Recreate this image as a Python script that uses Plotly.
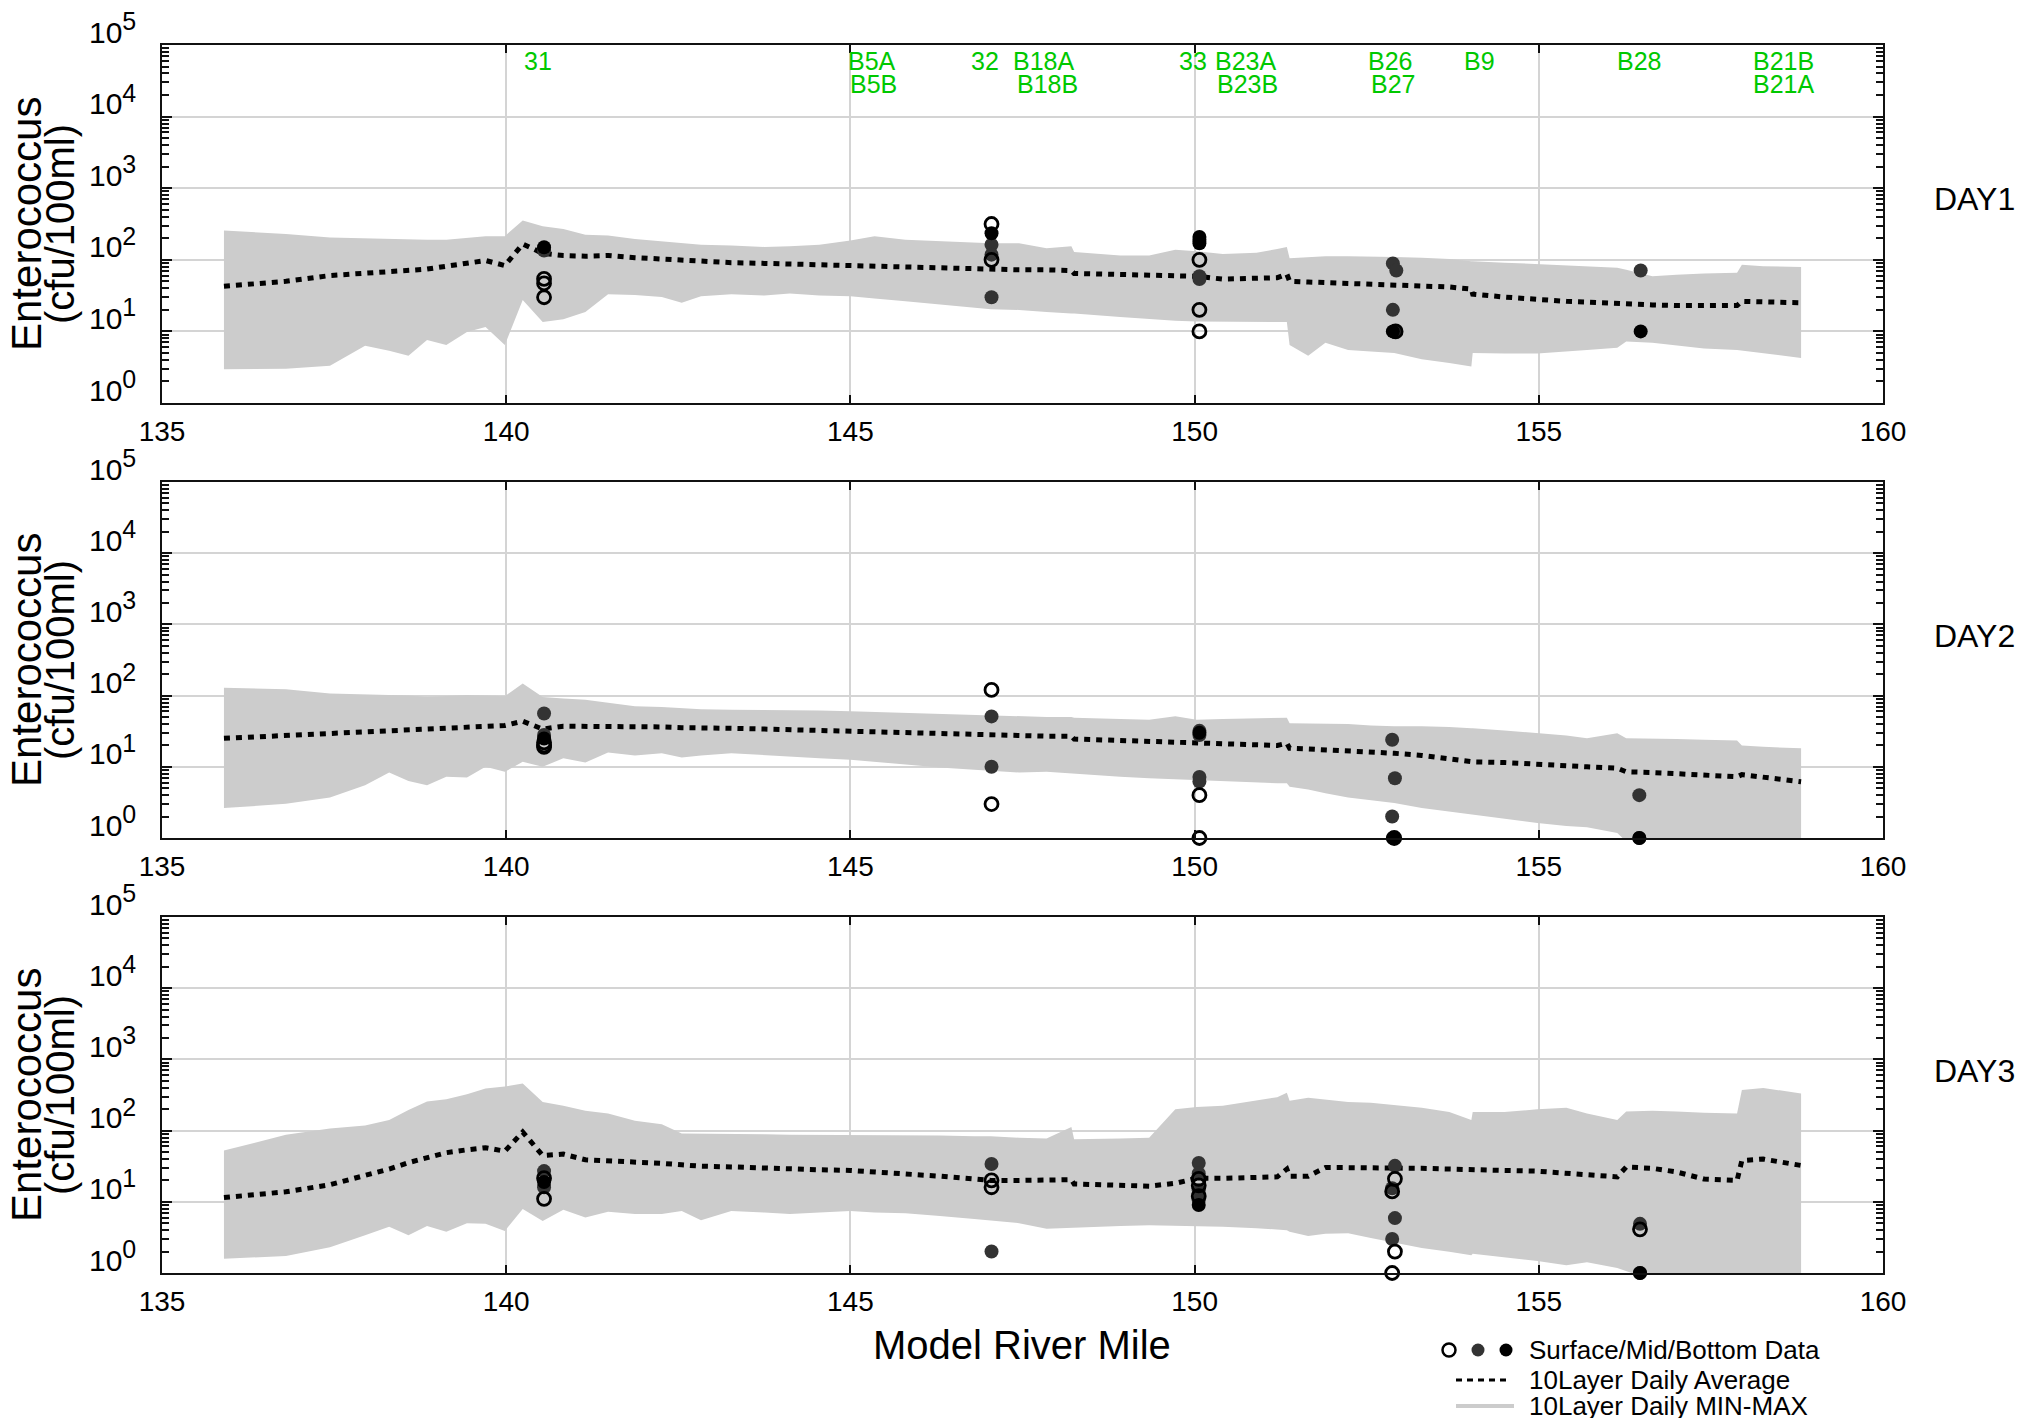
import plotly.graph_objects as go

# ---------------- data ----------------
river_mile = [135.90, 136.80, 137.44, 137.95, 138.30, 138.58, 138.85, 139.13, 139.43, 139.70,
              139.98, 140.24, 140.53, 140.83, 141.15, 141.48, 141.87, 142.26, 142.55, 142.83,
              143.27, 143.75, 144.12, 144.55, 145.00, 145.35, 145.80, 146.30, 146.80, 147.04,
              147.45, 147.85, 148.21, 148.25, 148.92, 149.34, 149.72, 150.03, 150.41, 150.90,
              151.20, 151.34, 151.38, 151.65, 151.90, 152.23, 152.56, 152.90, 153.30, 153.70,
              154.02, 154.04, 154.50, 154.98, 155.40, 155.70, 156.14, 156.27, 156.65, 157.00,
              157.40, 157.88, 157.95, 158.26, 158.81]

# model results (log10 of cfu/100ml)
day1_max_log10 = [2.41, 2.36, 2.31, 2.30, 2.29, 2.28, 2.28, 2.28, 2.31, 2.33,
                  2.33, 2.55, 2.47, 2.43, 2.35, 2.34, 2.29, 2.26, 2.23, 2.21,
                  2.20, 2.18, 2.19, 2.21, 2.27, 2.33, 2.28, 2.26, 2.24, 2.23,
                  2.23, 2.16, 2.19, 2.11, 2.06, 2.06, 2.14, 2.12, 2.08, 2.10,
                  2.15, 2.18, 2.02, 2.04, 2.05, 2.05, 2.05, 2.04, 2.03, 2.01,
                  1.98, 1.98, 1.96, 1.94, 1.92, 1.91, 1.89, 1.86, 1.77, 1.79,
                  1.81, 1.82, 1.93, 1.91, 1.90]
day1_min_log10 = [0.47, 0.48, 0.52, 0.80, 0.73, 0.66, 0.88, 0.81, 0.99, 1.06,
                  0.81, 1.44, 1.13, 1.17, 1.27, 1.52, 1.51, 1.48, 1.40, 1.49,
                  1.52, 1.50, 1.53, 1.50, 1.49, 1.46, 1.42, 1.37, 1.33, 1.31,
                  1.30, 1.27, 1.25, 1.25, 1.20, 1.17, 1.15, 1.14, 1.14, 1.13,
                  1.13, 1.13, 0.81, 0.66, 0.84, 0.74, 0.72, 0.70, 0.61, 0.56,
                  0.51, 0.70, 0.69, 0.69, 0.72, 0.74, 0.77, 0.86, 0.84, 0.80,
                  0.76, 0.74, 0.73, 0.69, 0.63]
day1_avg_log10 = [1.63, 1.70, 1.78, 1.81, 1.83, 1.85, 1.87, 1.91, 1.95, 1.99,
                  1.92, 2.22, 2.09, 2.06, 2.05, 2.06, 2.03, 2.01, 1.99, 1.97,
                  1.96, 1.95, 1.94, 1.94, 1.93, 1.92, 1.91, 1.89, 1.88, 1.87,
                  1.86, 1.86, 1.85, 1.81, 1.79, 1.78, 1.77, 1.77, 1.73, 1.74,
                  1.75, 1.80, 1.70, 1.69, 1.68, 1.67, 1.66, 1.65, 1.64, 1.62,
                  1.59, 1.52, 1.48, 1.44, 1.42, 1.41, 1.39, 1.37, 1.37, 1.36,
                  1.36, 1.36, 1.42, 1.41, 1.40]

day2_max_log10 = [2.11, 2.09, 2.03, 2.02, 2.01, 2.00, 1.98, 1.99, 2.01, 2.00,
                  1.99, 2.17, 1.98, 1.96, 1.94, 1.90, 1.85, 1.84, 1.82, 1.81,
                  1.80, 1.80, 1.79, 1.79, 1.78, 1.77, 1.76, 1.74, 1.73, 1.72,
                  1.71, 1.70, 1.70, 1.69, 1.67, 1.66, 1.71, 1.66, 1.67, 1.68,
                  1.68, 1.69, 1.61, 1.61, 1.60, 1.60, 1.58, 1.57, 1.57, 1.56,
                  1.54, 1.54, 1.51, 1.47, 1.44, 1.40, 1.47, 1.40, 1.40, 1.39,
                  1.38, 1.37, 1.30, 1.28, 1.26]
day2_min_log10 = [0.42, 0.48, 0.57, 0.74, 0.92, 0.80, 0.74, 0.86, 0.85, 1.00,
                  0.93, 1.07, 1.00, 1.12, 1.06, 1.20, 1.16, 1.19, 1.13, 1.16,
                  1.19, 1.16, 1.14, 1.12, 1.10, 1.07, 1.03, 0.99, 0.96, 0.95,
                  0.92, 0.93, 0.91, 0.91, 0.86, 0.84, 0.82, 0.81, 0.80, 0.78,
                  0.77, 0.77, 0.72, 0.68, 0.63, 0.57, 0.53, 0.49, 0.42, 0.38,
                  0.33, 0.33, 0.27, 0.21, 0.17, 0.15, 0.07, -0.05, -0.20, -0.20,
                  -0.20, -0.20, -0.20, -0.20, -0.20]
day2_avg_log10 = [1.40, 1.44, 1.47, 1.49, 1.50, 1.51, 1.53, 1.55, 1.56, 1.57,
                  1.58, 1.64, 1.53, 1.57, 1.57, 1.57, 1.56, 1.56, 1.55, 1.55,
                  1.54, 1.53, 1.52, 1.51, 1.49, 1.48, 1.47, 1.46, 1.45, 1.44,
                  1.44, 1.43, 1.43, 1.39, 1.37, 1.35, 1.34, 1.33, 1.32, 1.31,
                  1.30, 1.33, 1.26, 1.25, 1.24, 1.22, 1.20, 1.19, 1.16, 1.12,
                  1.08, 1.07, 1.06, 1.03, 1.01, 1.00, 0.98, 0.93, 0.92, 0.90,
                  0.88, 0.86, 0.89, 0.85, 0.79]

day3_max_log10 = [1.72, 1.94, 2.03, 2.07, 2.15, 2.29, 2.41, 2.44, 2.51, 2.59,
                  2.62, 2.66, 2.40, 2.35, 2.28, 2.24, 2.14, 2.09, 1.96, 1.96,
                  1.95, 1.95, 1.94, 1.94, 1.94, 1.93, 1.93, 1.93, 1.92, 1.92,
                  1.90, 1.89, 2.05, 1.88, 1.89, 1.90, 2.30, 2.33, 2.35, 2.42,
                  2.47, 2.53, 2.42, 2.46, 2.43, 2.40, 2.39, 2.36, 2.32, 2.26,
                  2.15, 2.26, 2.26, 2.30, 2.32, 2.24, 2.15, 2.27, 2.28, 2.27,
                  2.25, 2.24, 2.57, 2.60, 2.52]
day3_min_log10 = [0.20, 0.24, 0.36, 0.53, 0.65, 0.53, 0.66, 0.58, 0.70, 0.69,
                  0.59, 0.90, 0.73, 0.89, 0.78, 0.86, 0.83, 0.83, 0.87, 0.74,
                  0.87, 0.85, 0.83, 0.85, 0.87, 0.85, 0.84, 0.80, 0.76, 0.74,
                  0.70, 0.62, 0.63, 0.64, 0.66, 0.67, 0.67, 0.66, 0.65, 0.63,
                  0.61, 0.60, 0.58, 0.52, 0.55, 0.56, 0.49, 0.42, 0.35, 0.30,
                  0.25, 0.27, 0.22, 0.17, 0.11, 0.15, 0.07, 0.02, -0.10, -0.20,
                  -0.20, -0.20, -0.20, -0.20, -0.20]
day3_avg_log10 = [1.06, 1.14, 1.24, 1.36, 1.46, 1.55, 1.62, 1.69, 1.73, 1.76,
                  1.71, 1.98, 1.65, 1.67, 1.59, 1.58, 1.56, 1.54, 1.52, 1.50,
                  1.49, 1.47, 1.46, 1.45, 1.44, 1.42, 1.40, 1.36, 1.32, 1.30,
                  1.30, 1.30, 1.31, 1.25, 1.23, 1.22, 1.26, 1.33, 1.33, 1.34,
                  1.35, 1.46, 1.36, 1.36, 1.48, 1.48, 1.48, 1.48, 1.47, 1.46,
                  1.45, 1.44, 1.44, 1.43, 1.41, 1.38, 1.35, 1.49, 1.47, 1.42,
                  1.32, 1.30, 1.58, 1.60, 1.51]

# observed data (cfu/100ml)
day1_surface_x = [140.55, 140.55, 140.55, 147.05, 147.05, 150.07, 150.07, 150.07, 152.92]
day1_surface_y = [54, 47, 30, 316, 100, 100, 20, 10, 10]
day1_mid_x = [140.55, 147.05, 147.05, 147.05, 150.07, 150.07, 152.88, 152.93, 152.88, 152.90, 156.48]
day1_mid_y = [135, 162, 118, 30, 59, 54, 89, 71, 20, 10, 71]
day1_bot_x = [140.55, 147.05, 150.07, 150.07, 150.07, 152.88, 156.48]
day1_bot_y = [150, 235, 209, 190, 170, 10, 10]

day2_surface_x = [140.55, 140.55, 140.55, 147.05, 147.05, 150.07, 150.07, 152.90]
day2_surface_y = [22, 20, 19, 120, 3, 4, 1, 1]
day2_mid_x = [140.55, 140.55, 147.05, 147.05, 150.07, 150.07, 150.07, 150.07,
              152.87, 152.91, 152.87, 152.89, 156.46, 156.46]
day2_mid_y = [56, 28, 51, 10, 32, 28, 7.2, 6.2, 24, 6.9, 2.0, 1, 4, 1]
day2_bot_x = [140.55, 150.07, 152.88, 156.46]
day2_bot_y = [25, 30, 1, 1]

day3_surface_x = [140.55, 140.55, 147.05, 147.05, 150.06, 150.06, 150.06, 152.91, 152.87, 152.91, 152.87, 156.47]
day3_surface_y = [21.5, 11, 20, 16, 21, 17, 12, 21, 14, 2, 1, 4.1]
day3_mid_x = [140.55, 140.55, 147.05, 147.05, 150.06, 150.06, 150.06, 150.06,
              152.91, 152.87, 152.91, 152.87, 156.47, 156.47]
day3_mid_y = [27, 16, 34, 2, 35, 25, 14.5, 10.5, 32, 15.5, 5.9, 3, 4.9, 1]
day3_bot_x = [140.55, 150.06, 156.47]
day3_bot_y = [19, 9, 1]

day_labels = ["DAY1", "DAY2", "DAY3"]

station_row1_names = ["31", "B5A", "32", "B18A", "33", "B23A", "B26", "B9", "B28", "B21B"]
station_row1_miles = [140.23, 144.94, 146.73, 147.34, 149.75, 150.27, 152.49, 153.88, 156.11, 158.08]
station_row2_names = ["B5B", "B18B", "B23B", "B27", "B21A"]
station_row2_miles = [144.96, 147.39, 150.30, 152.53, 158.08]

x_ticks = [135, 140, 145, 150, 155, 160]
y_tick_exponents = [0, 1, 2, 3, 4, 5]

# ---------------- styling / layout ----------------
PAGE_OFF = 8                 # default body margin of the html page
W, H = 2043 - 2 * PAGE_OFF, 1426 - 2 * PAGE_OFF
FONT = "Liberation Sans, Arial, Helvetica, sans-serif"
BAND = "#cccccc"
GREEN = "#00c800"


def px_x(p):
    return (p - PAGE_OFF) / W


def px_y(p):
    return 1 - (p - PAGE_OFF) / H


x_dom = [px_x(162), px_x(1883)]
panel_px = [(45, 403), (482, 838), (917, 1273)]
y_doms = [[px_y(b), px_y(t)] for (t, b) in panel_px]

days = [
    (day1_max_log10, day1_min_log10, day1_avg_log10,
     day1_surface_x, day1_surface_y, day1_mid_x, day1_mid_y, day1_bot_x, day1_bot_y),
    (day2_max_log10, day2_min_log10, day2_avg_log10,
     day2_surface_x, day2_surface_y, day2_mid_x, day2_mid_y, day2_bot_x, day2_bot_y),
    (day3_max_log10, day3_min_log10, day3_avg_log10,
     day3_surface_x, day3_surface_y, day3_mid_x, day3_mid_y, day3_bot_x, day3_bot_y),
]

fig = go.Figure()

for i, d in enumerate(days):
    mx, mn, av, sx, sy, mx_, my_, bx, by = d
    xa = "x" if i == 0 else f"x{i+1}"
    ya = "y" if i == 0 else f"y{i+1}"
    upper = [10 ** v for v in mx]
    lower = [10 ** v for v in mn]
    avg = [10 ** v for v in av]
    fig.add_trace(go.Scatter(
        x=river_mile + river_mile[::-1], y=upper + lower[::-1],
        mode="lines", fill="toself", fillcolor=BAND, line=dict(width=0, color=BAND),
        xaxis=xa, yaxis=ya, showlegend=False, hoverinfo="skip"))
    fig.add_trace(go.Scatter(
        x=river_mile, y=avg, mode="lines",
        line=dict(color="black", width=5, dash="6px,6px"),
        xaxis=xa, yaxis=ya, showlegend=False))
    fig.add_trace(go.Scatter(
        x=mx_, y=my_, mode="markers",
        marker=dict(size=14, color="#333333", line=dict(width=0)),
        xaxis=xa, yaxis=ya, showlegend=False, cliponaxis=False))
    fig.add_trace(go.Scatter(
        x=bx, y=by, mode="markers",
        marker=dict(size=14, color="#000000", line=dict(width=0)),
        xaxis=xa, yaxis=ya, showlegend=False, cliponaxis=False))
    fig.add_trace(go.Scatter(
        x=sx, y=sy, mode="markers",
        marker=dict(size=13, color="rgba(0,0,0,0)", line=dict(width=2.8, color="black")),
        xaxis=xa, yaxis=ya, showlegend=False, cliponaxis=False))

minor_vals = [m * 10 ** k for k in range(0, 5) for m in range(2, 10)]
ytext = [f"10<sup><span style='font-size:25px'>{e}</span></sup>" for e in y_tick_exponents]

layout = dict(
    width=W, height=H, margin=dict(l=0, r=0, t=0, b=0, autoexpand=False),
    paper_bgcolor="white", plot_bgcolor="white",
    font=dict(family=FONT, color="black"),
)
for i in range(3):
    xk = "xaxis" if i == 0 else f"xaxis{i+1}"
    yk = "yaxis" if i == 0 else f"yaxis{i+1}"
    ya = "y" if i == 0 else f"y{i+1}"
    xa = "x" if i == 0 else f"x{i+1}"
    layout[xk] = dict(
        domain=x_dom, anchor=ya, range=[135, 160], tickvals=x_ticks,
        ticktext=[str(t) for t in x_ticks], automargin=False,
        showgrid=True, gridcolor="#d4d4d4", gridwidth=1.5,
        showline=True, linecolor="#111111", linewidth=1.5, mirror="ticks",
        ticks="inside", ticklen=8, tickwidth=1.5, tickcolor="#111111",
        tickfont=dict(size=28, family=FONT, color="black"),
        ticklabelstandoff=3, ticklabeloverflow="allow", zeroline=False)
    layout[yk] = dict(
        domain=y_doms[i], anchor=xa, type="log", range=[0, 5], automargin=False,
        tickvals=[10 ** e for e in y_tick_exponents], ticktext=ytext,
        showgrid=True, gridcolor="#d4d4d4", gridwidth=1.5,
        showline=True, linecolor="#111111", linewidth=1.5, mirror="ticks",
        ticks="inside", ticklen=10, tickwidth=1.5, tickcolor="#111111",
        minor=dict(ticks="inside", ticklen=7, tickwidth=1.5, tickcolor="#111111",
                   tickvals=minor_vals, showgrid=False),
        tickfont=dict(size=30, family=FONT, color="black"),
        ticklabelstandoff=18, ticklabelshift=-13, ticklabeloverflow="allow",
        zeroline=False)

fig.update_layout(**layout)

ann = []
for i, (t, b) in enumerate(panel_px):
    cy = px_y((t + b) / 2)
    ann.append(dict(xref="paper", yref="paper", x=px_x(26), y=cy, text="Enterococcus",
                    textangle=-90, showarrow=False, xanchor="center", yanchor="middle",
                    font=dict(size=42, family=FONT, color="black")))
    ann.append(dict(xref="paper", yref="paper", x=px_x(60), y=cy, text="(cfu/100ml)",
                    textangle=-90, showarrow=False, xanchor="center", yanchor="middle",
                    font=dict(size=40, family=FONT, color="black")))
    ann.append(dict(xref="paper", yref="paper", x=px_x(1974), y=px_y(t + 154), text=day_labels[i],
                    showarrow=False, xanchor="center", yanchor="middle",
                    font=dict(size=32, family=FONT, color="black")))

for name, mile in zip(station_row1_names, station_row1_miles):
    ann.append(dict(xref="x", yref="paper", x=mile, y=px_y(61), text=name, showarrow=False,
                    xanchor="left", yanchor="middle", font=dict(size=25, family=FONT, color=GREEN)))
for name, mile in zip(station_row2_names, station_row2_miles):
    ann.append(dict(xref="x", yref="paper", x=mile, y=px_y(84), text=name, showarrow=False,
                    xanchor="left", yanchor="middle", font=dict(size=25, family=FONT, color=GREEN)))

ann.append(dict(xref="paper", yref="paper", x=px_x(1022), y=px_y(1345), text="Model River Mile",
                showarrow=False, xanchor="center", yanchor="middle",
                font=dict(size=40, family=FONT, color="black")))

legend_rows = ["Surface/Mid/Bottom Data", "10Layer Daily Average", "10Layer Daily MIN-MAX"]
legend_y = [1350, 1380, 1406]
for txt, yy in zip(legend_rows, legend_y):
    ann.append(dict(xref="paper", yref="paper", x=px_x(1527), y=px_y(yy), text=txt,
                    showarrow=False, xanchor="left", yanchor="middle",
                    font=dict(size=26, family=FONT, color="black")))

shapes = []
r = 6.5
for cx, fc, lc in [(1449, "rgba(0,0,0,0)", "black"), (1478, "#333333", "#333333"), (1506, "black", "black")]:
    shapes.append(dict(type="circle", xref="paper", yref="paper",
                       x0=px_x(cx - r), x1=px_x(cx + r), y0=px_y(1350 + r), y1=px_y(1350 - r),
                       fillcolor=fc, line=dict(color=lc, width=2.5 if fc.startswith("rgba") else 0)))
shapes.append(dict(type="line", xref="paper", yref="paper", x0=px_x(1456), x1=px_x(1511),
                   y0=px_y(1380), y1=px_y(1380), line=dict(color="black", width=3, dash="6px,5px")))
shapes.append(dict(type="line", xref="paper", yref="paper", x0=px_x(1456), x1=px_x(1514),
                   y0=px_y(1406), y1=px_y(1406), line=dict(color=BAND, width=4)))

fig.update_layout(annotations=ann, shapes=shapes)

fig.write_html("out.html")
